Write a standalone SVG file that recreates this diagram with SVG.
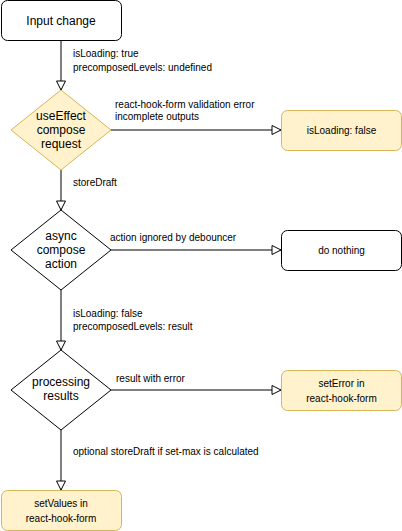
<svg xmlns="http://www.w3.org/2000/svg" width="402" height="531" viewBox="0 0 402 531">
<defs>
<style>
.term{fill:#ffffff;stroke:#000000;stroke-width:1}
.yel{fill:#fff2cc;stroke:#d6b656;stroke-width:1}
.dec{fill:#ffffff;stroke:#000000;stroke-width:1}
.t12{font-family:"Liberation Sans",Arial,sans-serif;font-size:12px;fill:#000;text-anchor:middle}
.t10{font-family:"Liberation Sans",Arial,sans-serif;font-size:10px;fill:#000;text-anchor:middle}
.lbl{font-family:"Liberation Sans",Arial,sans-serif;font-size:10px;fill:#000}
.edge{fill:none;stroke:#000;stroke-width:1;marker-end:url(#arr)}
</style>
<marker id="arr" markerUnits="userSpaceOnUse" markerWidth="12" markerHeight="12" viewBox="0 0 12 12" refX="10" refY="6" orient="auto">
<path d="M1,1.5 L10,6 L1,10.5 Z" fill="#fff" stroke="#000" stroke-width="1"/>
</marker>
</defs>
<g id="connectors">
<path class="edge" d="M61,40 V90"/>
<path class="edge" d="M111,130 H281"/>
<path class="edge" d="M61,170 V210"/>
<path class="edge" d="M111,250 H281"/>
<path class="edge" d="M61,290 V350"/>
<path class="edge" d="M111,390 H281"/>
<path class="edge" d="M61,430 V490"/>
<text class="lbl" x="73" y="57">isLoading: true</text>
<text class="lbl" x="73" y="71">precomposedLevels: undefined</text>
<text class="lbl" x="115" y="108">react-hook-form validation error</text>
<text class="lbl" x="115" y="120">incomplete outputs</text>
<text class="lbl" x="73" y="186">storeDraft</text>
<text class="lbl" x="110" y="241">action ignored by debouncer</text>
<text class="lbl" x="73" y="317">isLoading: false</text>
<text class="lbl" x="73" y="330">precomposedLevels: result</text>
<text class="lbl" x="116" y="382">result with error</text>
<text class="lbl" x="73" y="455">optional storeDraft if set-max is calculated</text>
</g>
<g id="input-change">
<rect class="term" x="1.5" y="0.5" width="120" height="40" rx="6"/>
<text class="t12" x="61" y="25">Input change</text>
</g>
<g id="use-effect">
<path class="yel" d="M61,90 L111,130 L61,170 L11,130 Z"/>
<text class="t12" x="61" y="120">useEffect</text>
<text class="t12" x="61" y="134">compose</text>
<text class="t12" x="61" y="148">request</text>
</g>
<g id="is-loading-false">
<rect class="yel" x="281.5" y="110.5" width="120" height="40" rx="6"/>
<text class="t10" x="341.5" y="134">isLoading: false</text>
</g>
<g id="async-compose">
<path class="dec" d="M61,210 L111,250 L61,290 L11,250 Z"/>
<text class="t12" x="61" y="240">async</text>
<text class="t12" x="61" y="254">compose</text>
<text class="t12" x="61" y="268">action</text>
</g>
<g id="do-nothing">
<rect class="term" x="281.5" y="230.5" width="120" height="40" rx="6"/>
<text class="t10" x="341.5" y="254">do nothing</text>
</g>
<g id="processing">
<path class="dec" d="M61,350 L111,390 L61,430 L11,390 Z"/>
<text class="t12" x="61" y="386">processing</text>
<text class="t12" x="61" y="400">results</text>
</g>
<g id="set-error">
<rect class="yel" x="281.5" y="370.5" width="120" height="40" rx="6"/>
<text class="t10" x="341.5" y="387">setError in</text>
<text class="t10" x="341.5" y="402">react-hook-form</text>
</g>
<g id="set-values">
<rect class="yel" x="1.5" y="490.5" width="120" height="40" rx="6"/>
<text class="t10" x="61" y="507">setValues in</text>
<text class="t10" x="61" y="522">react-hook-form</text>
</g>
</svg>
